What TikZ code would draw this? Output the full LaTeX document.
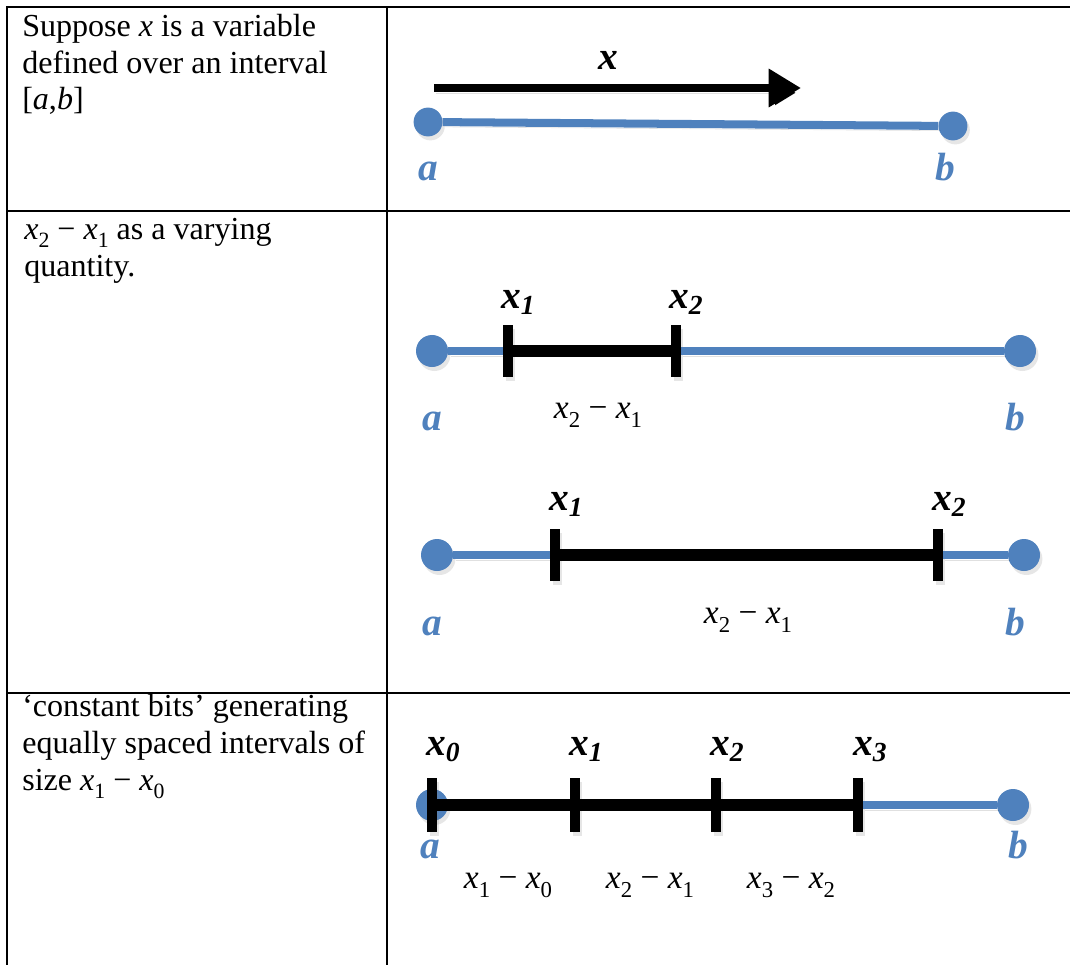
\documentclass[tikz,border=0pt]{standalone}
\usepackage{fontspec}
\usepackage{graphicx}
\setmainfont{Liberation Serif}
\usetikzlibrary{arrows.meta,shadows}

\newcommand{\xsub}[1]{\textit{x}\raisebox{-0.27em}{\scalebox{0.68}{#1}}}
\newcommand{\xlab}[1]{\textit{x}\textsubscript{\textit{#1}}}

\begin{document}
\begin{tikzpicture}[x=0.025cm, y=-0.025cm,
        celltext/.style={anchor=base west, inner sep=0pt, align=left, font=\fontsize{22.8}{26.1}\selectfont},
        endpt/.style={circle, fill=myblue, inner sep=0pt, minimum size=0.8cm, drop shadow={opacity=0.2, shadow xshift=0.06cm, shadow yshift=-0.1cm}},
        tickmark/.style={rectangle, fill=black, inner sep=0pt, minimum width=0.23cm, minimum height=1.32cm, drop shadow={opacity=0.2, shadow xshift=0.06cm, shadow yshift=-0.1cm}},
        blueline/.style={draw=myblue, line width=5.7pt, preaction={draw=black, draw opacity=0.12, transform canvas={shift={(0.06cm,-0.12cm)}}}},
        blackbar/.style={draw=black, line width=8pt, preaction={draw=black, draw opacity=0.15, transform canvas={shift={(0.06cm,-0.12cm)}}}},
        xarrow/.style={draw=black, line width=5.7pt, -{Triangle[length=23pt,width=26pt]}, preaction={draw=black, draw opacity=0.12, transform canvas={shift={(0.06cm,-0.12cm)}}}},
        endlab/.style={anchor=base, inner sep=0pt, text=myblue, font=\fontsize{28}{30}\selectfont\bfseries\itshape},
        ptlab/.style={anchor=base west, inner sep=0pt, font=\fontsize{28}{30}\selectfont\bfseries\itshape},
        difflab/.style={anchor=base, inner sep=0pt, font=\fontsize{23.8}{26}\selectfont},
        rule/.style={draw=black, line width=1.8pt}]
        \definecolor{myblue}{RGB}{79,129,189}

        \useasboundingbox (0,0) rectangle (1070,965);

        % table
        \draw[rule] (1070,7) -- (7,7) -- (7,965);
        \draw[rule] (387,7) -- (387,965);
        \draw[rule] (7,211) -- (1070,211);
        \draw[rule] (7,693) -- (1070,693);

        % left column (placed at the baseline of the last line)
        \node[celltext] (txt1) at (22,110) {Suppose \textit{x} is a variable\\defined over an interval\\{[}\textit{a},\textit{b}{]}};
        \node[celltext] (txt2) at (24,276) {\xsub{2} − \xsub{1} as a varying\\quantity.};
        \node[celltext] (txt3) at (22,790) {‘constant bits’ generating\\equally spaced intervals of\\size \xsub{1} − \xsub{0}};

        % row 1
        \node[endpt, minimum size=0.72cm] (a1) at (428,122) {};
        \node[endpt, minimum size=0.72cm] (b1) at (953,126) {};
        \draw[blueline] (a1) -- (b1);
        \coordinate (xs) at (434,88);
        \coordinate (xe) at (801,88);
        \draw[xarrow] (xs) -- (xe);
        \node[ptlab, anchor=base] (xl) at (608,70) {x};
        \node[endlab] (al1) at (428,181) {a};
        \node[endlab] (bl1) at (945,181) {b};

        % row 2, short piece
        \node[endpt] (a2) at (432,351) {};
        \node[endpt] (b2) at (1020,351) {};
        \node[tickmark] (p21) at (508,351) {};
        \node[tickmark] (p22) at (676,351) {};
        \draw[blueline] (a2) -- (p21);
        \draw[blackbar] (p21) -- (p22);
        \draw[blueline] (p22) -- (b2);
        \node[ptlab] (l21) at (501,308) {\xlab{1}};
        \node[ptlab] (l22) at (669,308) {\xlab{2}};
        \node[difflab] (d21) at (598,418) {\xsub{2} − \xsub{1}};
        \node[endlab] (al2) at (432,430) {a};
        \node[endlab] (bl2) at (1015,430) {b};

        % row 2, long piece
        \node[endpt] (a3) at (437,555) {};
        \node[endpt] (b3) at (1024,555) {};
        \node[tickmark] (p31) at (555,555) {};
        \node[tickmark] (p32) at (938,555) {};
        \draw[blueline] (a3) -- (p31);
        \draw[blackbar] (p31) -- (p32);
        \draw[blueline] (p32) -- (b3);
        \node[ptlab] (l31) at (549,510) {\xlab{1}};
        \node[ptlab] (l32) at (932,510) {\xlab{2}};
        \node[difflab] (d31) at (748,623) {\xsub{2} − \xsub{1}};
        \node[endlab] (al3) at (432,635) {a};
        \node[endlab] (bl3) at (1015,635) {b};

        % row 3
        \node[endpt] (a4) at (432,805) {};
        \node[endpt] (b4) at (1013,805) {};
        \node[tickmark, minimum height=1.35cm] (p40) at (432,805) {};
        \node[tickmark, minimum height=1.35cm] (p41) at (575,805) {};
        \node[tickmark, minimum height=1.35cm] (p42) at (716,805) {};
        \node[tickmark, minimum height=1.35cm] (p43) at (858,805) {};
        \draw[blackbar] (p40) -- (p41);
        \draw[blackbar] (p41) -- (p42);
        \draw[blackbar] (p42) -- (p43);
        \draw[blueline] (p43) -- (b4);
        \node[ptlab] (l40) at (426,755) {\xlab{0}};
        \node[ptlab] (l41) at (569,755) {\xlab{1}};
        \node[ptlab] (l42) at (710,755) {\xlab{2}};
        \node[ptlab] (l43) at (853,755) {\xlab{3}};
        \node[difflab] (d41) at (508,888) {\xsub{1} − \xsub{0}};
        \node[difflab] (d42) at (650,888) {\xsub{2} − \xsub{1}};
        \node[difflab] (d43) at (791,888) {\xsub{3} − \xsub{2}};
        \node[endlab] (al4) at (430,858) {a};
        \node[endlab] (bl4) at (1018,858) {b};
    \end{tikzpicture}
\end{document}
